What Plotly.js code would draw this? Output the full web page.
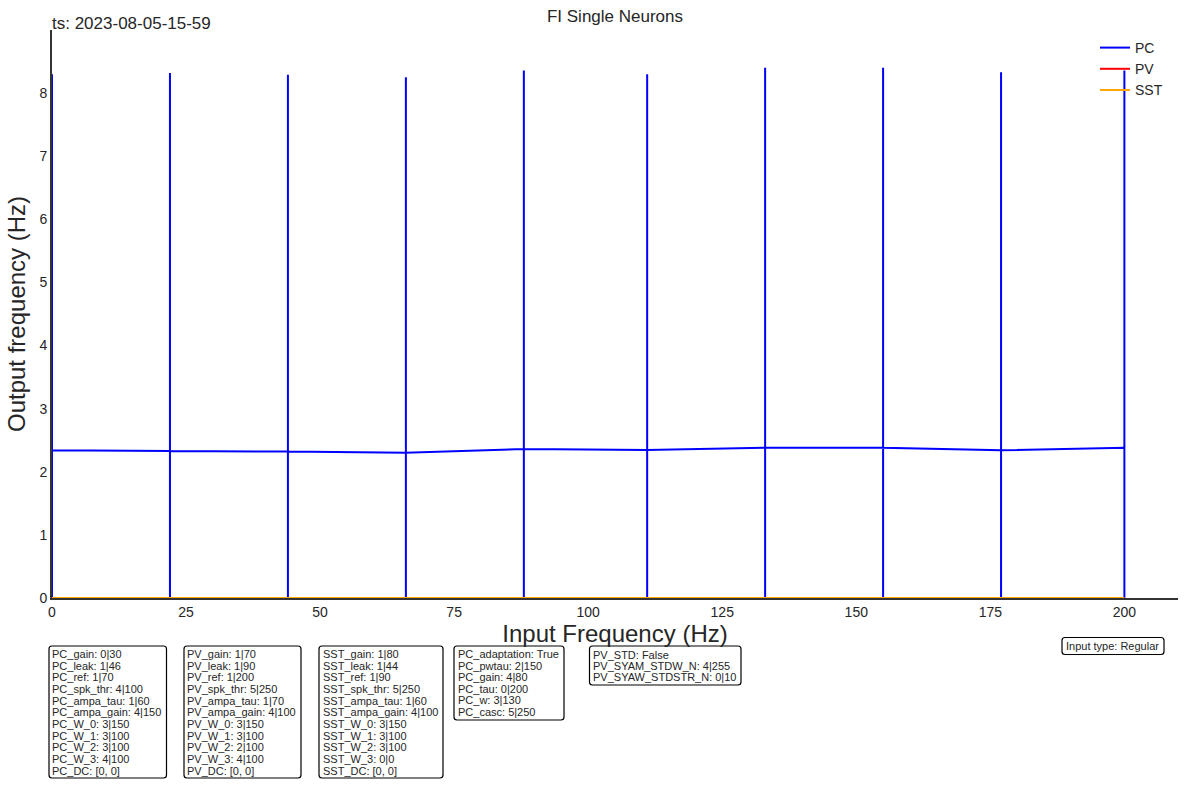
<!DOCTYPE html>
<html>
<head>
<meta charset="utf-8">
<script src="https://cdn.plot.ly/plotly-3.0.1.min.js"></script>
<style>html,body{margin:0;padding:0;background:#fff;}#chart{width:1188px;height:785px;}</style>
</head>
<body>
<div id="chart"></div>
<script>
// ---- data ----
const inputFreq = [0, 22, 44, 66, 88, 111, 133, 155, 177, 200];
const pcMean = [2.34, 2.33, 2.32, 2.30, 2.36, 2.345, 2.38, 2.38, 2.34, 2.38];
const pcPeak = [8.30, 8.32, 8.29, 8.25, 8.36, 8.30, 8.40, 8.40, 8.33, 8.36];
const pvRate = [0, 0, 0, 0, 0, 0, 0, 0, 0, 0];
const sstRate = [0, 0, 0, 0, 0, 0, 0, 0, 0, 0];
const yTicks = [0, 1, 2, 3, 4, 5, 6, 7, 8];
const xTicks = [0, 25, 50, 75, 100, 125, 150, 175, 200];

const pcBox = ["PC_gain: 0|30","PC_leak: 1|46","PC_ref: 1|70","PC_spk_thr: 4|100","PC_ampa_tau: 1|60","PC_ampa_gain: 4|150","PC_W_0: 3|150","PC_W_1: 3|100","PC_W_2: 3|100","PC_W_3: 4|100","PC_DC: [0, 0]"];
const pvBox = ["PV_gain: 1|70","PV_leak: 1|90","PV_ref: 1|200","PV_spk_thr: 5|250","PV_ampa_tau: 1|70","PV_ampa_gain: 4|100","PV_W_0: 3|150","PV_W_1: 3|100","PV_W_2: 2|100","PV_W_3: 4|100","PV_DC: [0, 0]"];
const sstBox = ["SST_gain: 1|80","SST_leak: 1|44","SST_ref: 1|90","SST_spk_thr: 5|250","SST_ampa_tau: 1|60","SST_ampa_gain: 4|100","SST_W_0: 3|150","SST_W_1: 3|100","SST_W_2: 3|100","SST_W_3: 0|0","SST_DC: [0, 0]"];
const adaptBox = ["PC_adaptation: True","PC_pwtau: 2|150","PC_gain: 4|80","PC_tau: 0|200","PC_w: 3|130","PC_casc: 5|250"];
const stdBox = ["PV_STD: False","PV_SYAM_STDW_N: 4|255","PV_SYAW_STDSTR_N: 0|10"];
const inputBox = ["Input type: Regular"];

// ---- layout geometry ----
const W = 1188, H = 785;
const L = 52, R = 1178, T = 30, B = 598;
const px = v => (v - L) / (R - L);
const py = v => (B - v) / (B - T);
const FONT = "Liberation Sans, Arial, sans-serif";
const TXT = "#262626";

// PC: mean line with vertical spikes (0 -> peak) at each input frequency
const pcX = [], pcY = [];
inputFreq.forEach((x, i) => {
  pcX.push(x, x, x, x);
  pcY.push(pcMean[i], 0, pcPeak[i], pcMean[i]);
});

const traces = [
  {x: pcX, y: pcY, mode: "lines", name: "PC", line: {color: "blue", width: 2}},
  {x: inputFreq, y: pvRate, mode: "lines", name: "PV", line: {color: "red", width: 2}},
  {x: inputFreq, y: sstRate, mode: "lines", name: "SST", line: {color: "orange", width: 2}}
];

// ---- text boxes ----
const annotations = [];
const shapes = [];
function roundedRect(x0, y0, x1, y1, r) {
  const X = v => px(v), Y = v => py(v);
  return "M" + X(x0 + r) + "," + Y(y0) +
    " L" + X(x1 - r) + "," + Y(y0) +
    " Q" + X(x1) + "," + Y(y0) + " " + X(x1) + "," + Y(y0 + r) +
    " L" + X(x1) + "," + Y(y1 - r) +
    " Q" + X(x1) + "," + Y(y1) + " " + X(x1 - r) + "," + Y(y1) +
    " L" + X(x0 + r) + "," + Y(y1) +
    " Q" + X(x0) + "," + Y(y1) + " " + X(x0) + "," + Y(y1 - r) +
    " L" + X(x0) + "," + Y(y0 + r) +
    " Q" + X(x0) + "," + Y(y0) + " " + X(x0 + r) + "," + Y(y0) + " Z";
}
function addBox(lines, bx0, by0, bx1, by1, tx, ty0, dy) {
  shapes.push({type: "path", xref: "paper", yref: "paper", path: roundedRect(bx0, by0, bx1, by1, 3),
    line: {color: "#000", width: 1.2}, fillcolor: "rgba(255,255,255,1)", layer: "above"});
  lines.forEach((t, i) => {
    annotations.push({xref: "paper", yref: "paper", x: px(tx), y: py(ty0 + i * dy),
      xanchor: "left", yanchor: "middle", showarrow: false, text: t,
      font: {family: FONT, size: 11, color: TXT}, borderpad: 0});
  });
}
addBox(pcBox, 49, 646, 166.5, 778, 51, 654, 11.67);
addBox(pvBox, 184, 646, 301, 778, 186, 654, 11.67);
addBox(sstBox, 319, 646, 443, 778, 321.5, 654, 11.67);
addBox(adaptBox, 454, 646, 564, 720, 457, 654, 11.5);
addBox(stdBox, 589.5, 646, 741, 685, 592, 655, 11);
addBox(inputBox, 1062, 637.5, 1164, 654.5, 1065, 646, 11);

annotations.push({xref: "paper", yref: "paper", x: px(50), y: py(23.5), xanchor: "left", yanchor: "middle",
  showarrow: false, text: "ts: 2023-08-05-15-59", font: {family: FONT, size: 17, color: TXT}});

const layout = {
  width: W, height: H,
  margin: {l: L, r: W - R, t: T, b: H - B, pad: 0},
  paper_bgcolor: "#fff", plot_bgcolor: "#fff",
  font: {family: FONT, size: 14, color: TXT},
  title: {text: "FI Single Neurons", x: 0.5, xref: "paper", y: 1 - 16 / H, yref: "container", yanchor: "middle",
    font: {family: FONT, size: 17, color: TXT}},
  xaxis: {range: [0, 210], tickvals: xTicks, ticktext: xTicks.map(String), showgrid: false, zeroline: false,
    showline: true, linecolor: "#333", linewidth: 1.8, ticks: "", tickfont: {size: 14, color: TXT},
    title: {text: "Input Frequency (Hz)", font: {size: 24, color: TXT}, standoff: 5}},
  yaxis: {range: [0, 9], tickvals: yTicks, ticktext: yTicks.map(String), showgrid: false, zeroline: false,
    showline: true, linecolor: "#333", linewidth: 1.8, ticks: "", tickfont: {size: 14, color: TXT},
    title: {text: "Output frequency (Hz)", font: {size: 24, color: TXT}, standoff: 7}},
  showlegend: true,
  legend: {x: px(1095), xanchor: "left", y: py(32), yanchor: "top", bgcolor: "rgba(255,255,255,0)",
    font: {family: FONT, size: 14, color: TXT}, tracegroupgap: 0},
  annotations: annotations,
  shapes: shapes
};

Plotly.newPlot("chart", traces, layout, {displayModeBar: false, staticPlot: true});
</script>
</body>
</html>
